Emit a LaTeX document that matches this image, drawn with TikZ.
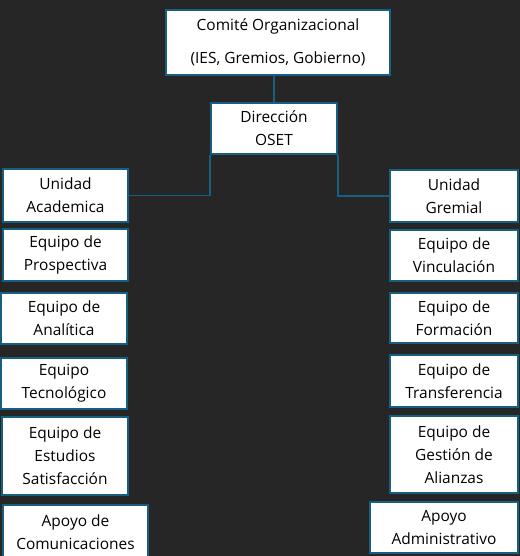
\documentclass[tikz,border=0pt]{standalone}
\usepackage{fontspec}
\setmainfont{Open Sans}
\usepackage{tikz}

\definecolor{bgdark}{RGB}{38,38,38}
\definecolor{orgblue}{RGB}{21,96,130}

\tikzset{
  unit/.style={draw=orgblue, line width=1.1pt, fill=white, align=center,
    inner sep=0pt, font=\fontsize{8.8}{13}\selectfont},
  link/.style={draw=orgblue, line width=1.1pt}
}

\begin{document}
\begin{tikzpicture}
  \useasboundingbox (0,0) rectangle (10.4,-11.12);
  \fill[bgdark] (0,0) rectangle (10.4,-11.12);

  \node[unit, minimum width=4.48cm, minimum height=1.30cm] (comite) at (5.56,-0.85) {Comité Organizacional\\[5.8pt](IES, Gremios, Gobierno)};
  \node[unit, minimum width=2.52cm, minimum height=1.02cm] (direccion) at (5.48,-2.57) {Dirección\\OSET};

  % left column
  \node[unit, minimum width=2.50cm, minimum height=1.06cm] (academica) at (1.31,-3.91) {Unidad\\Academica};
  \node[unit, minimum width=2.50cm, minimum height=1.04cm] (prospectiva) at (1.31,-5.10) {Equipo de\\Prospectiva};
  \node[unit, minimum width=2.52cm, minimum height=1.02cm] (analitica) at (1.28,-6.37) {Equipo de\\Analítica};
  \node[unit, minimum width=2.52cm, minimum height=1.02cm] (tecno) at (1.28,-7.67) {Equipo\\Tecnológico};
  \node[unit, minimum width=2.52cm, minimum height=1.56cm] (estudios) at (1.30,-9.12) {Equipo de\\Estudios\\Satisfacción};
  \node[unit, minimum width=2.90cm, minimum height=1.10cm] (comunic) at (1.51,-10.65) {Apoyo de\\Comunicaciones};

  % right column
  \node[unit, minimum width=2.56cm, minimum height=1.04cm] (gremial) at (9.08,-3.92) {Unidad\\Gremial};
  \node[unit, minimum width=2.56cm, minimum height=1.02cm] (vinculacion) at (9.08,-5.11) {Equipo de\\Vinculación};
  \node[unit, minimum width=2.56cm, minimum height=1.00cm] (formacion) at (9.08,-6.36) {Equipo de\\Formación};
  \node[unit, minimum width=2.56cm, minimum height=1.04cm] (transfer) at (9.08,-7.62) {Equipo de\\Transferencia};
  \node[unit, minimum width=2.56cm, minimum height=1.54cm] (alianzas) at (9.08,-9.09) {Equipo de\\Gestión de\\Alianzas};
  \node[unit, minimum width=2.96cm, minimum height=1.02cm] (administ) at (8.88,-10.55) {Apoyo\\Administrativo};

  \draw[link] (direccion.north) -- (direccion.north |- comite.south);
  \draw[link] (direccion.south west) |- (academica.east);
  \draw[link] (direccion.south east) |- (gremial.west);
\end{tikzpicture}
\end{document}
